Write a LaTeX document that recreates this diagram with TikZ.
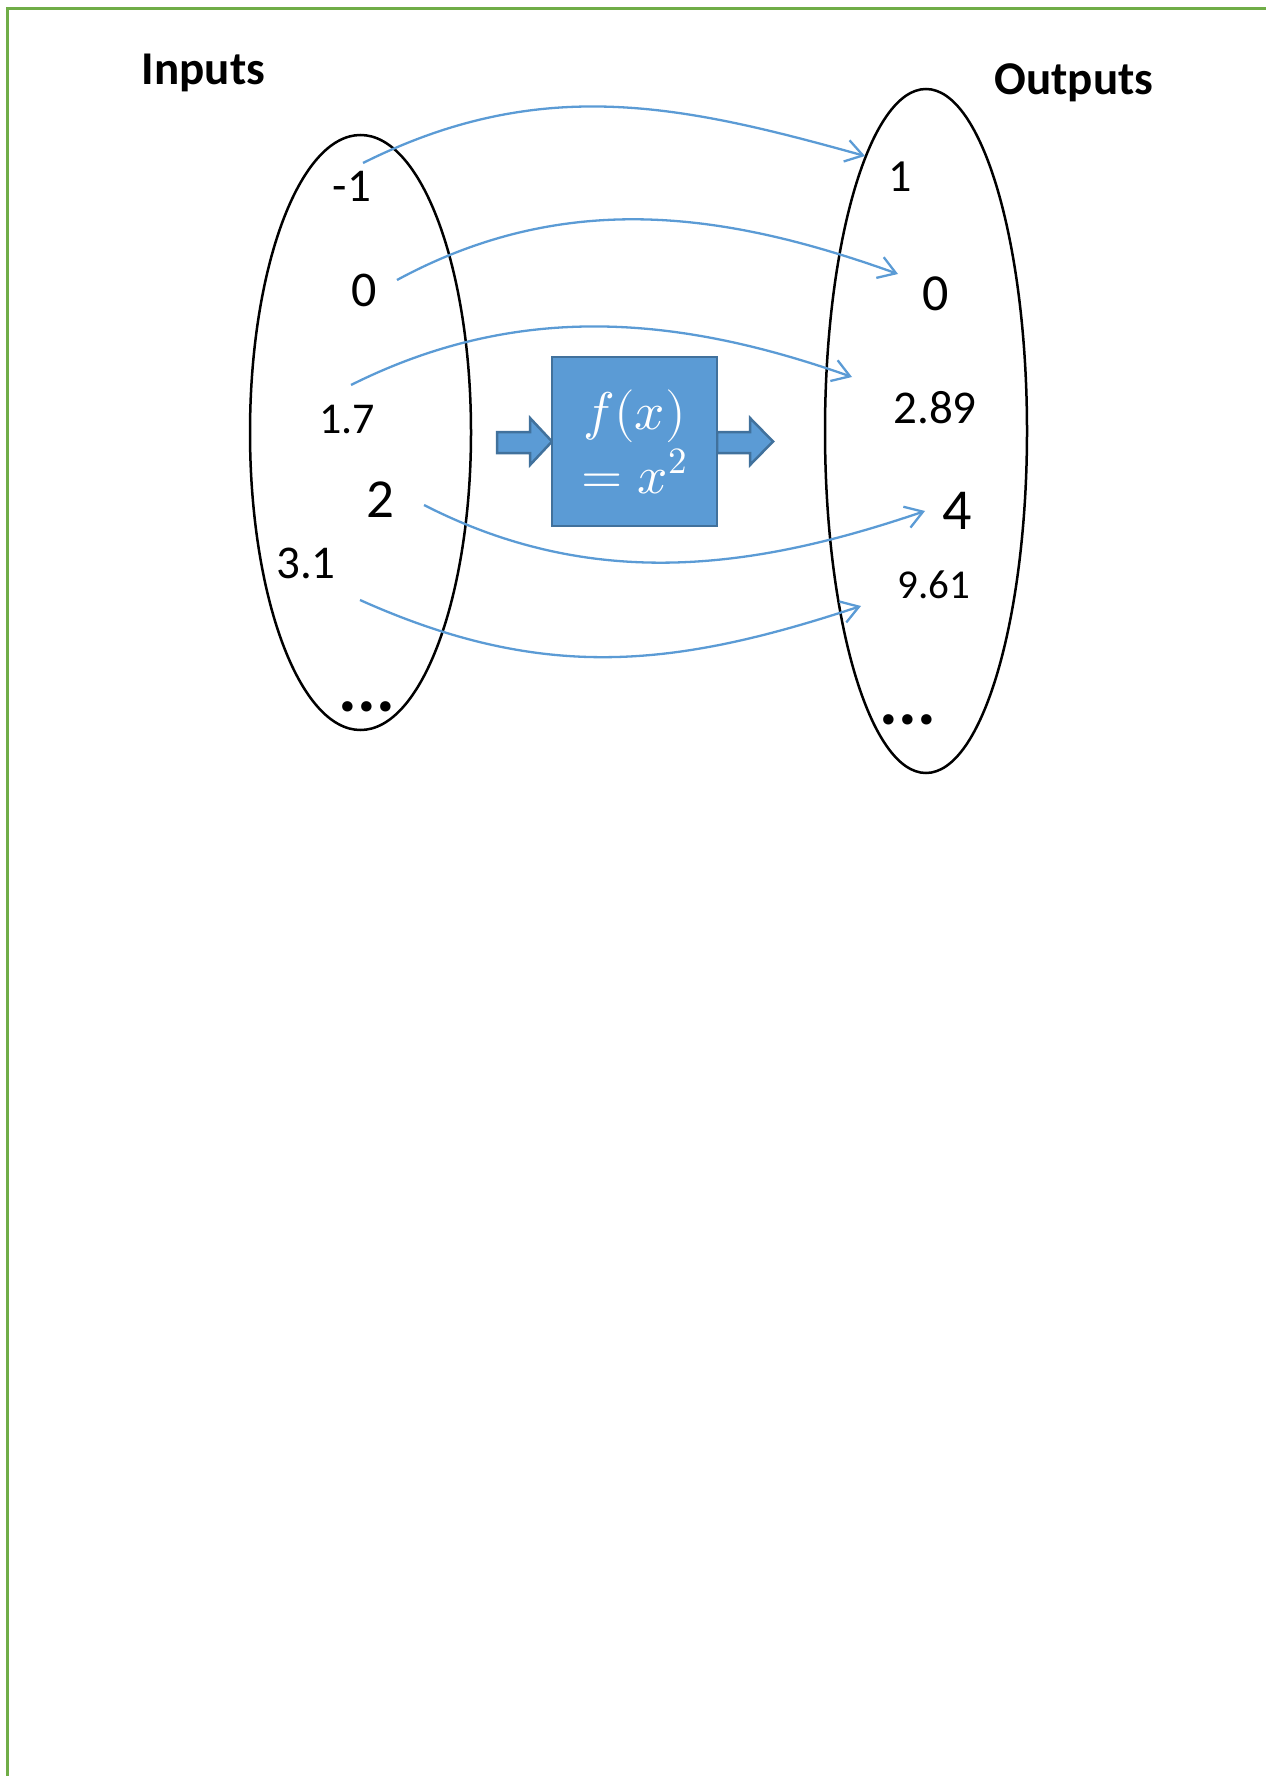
\documentclass[tikz,border=0pt]{standalone}
\usepackage{fontspec}
\setmainfont{Carlito}
\usepackage{unicode-math}
\setmathfont{Latin Modern Math}
\usetikzlibrary{arrows.meta,shapes.geometric}
\definecolor{accblue}{HTML}{5B9BD5}
\definecolor{accborder}{HTML}{41719C}
\definecolor{framegreen}{HTML}{70AD47}
\tikzset{
  lbl/.style={anchor=base, inner sep=0pt, font=\fontsize{#1}{#1}\selectfont},
  head/.style={anchor=base, inner sep=0pt, font=\fontsize{47}{47}\selectfont\bfseries},
  dotsl/.style={anchor=base, inner sep=0pt, font=\fontsize{70}{70}\selectfont\bfseries},
  setoval/.style={ellipse, draw=black, line width=2.5pt, inner sep=0pt},
  mapline/.style={draw=accblue, line width=2.3pt, -{Straight Barb[length=17pt,width=22pt,line width=2.3pt]}},
  fbox/.style={rectangle, fill=accblue, draw=accborder, line width=2.5pt, text=white,
    align=center, minimum width=165pt, minimum height=169pt, inner sep=0pt,
    font=\fontsize{53}{64}\selectfont},
  blockarrow/.style={fill=accblue, draw=accborder, line width=2.5pt, line join=miter},
}
\begin{document}
\begin{tikzpicture}[x=1pt,y=-1pt]
\useasboundingbox (0,0) rectangle (1266,1776);
% frame
\draw[framegreen, line width=3pt] (7,1776) -- (7,9) -- (1266,9);

% headings
\node[head] (inputs) at (203.5,85) {Inputs};
\node[head] (outputs) at (1074,95) {Outputs};

% sets
\node[setoval, minimum width=221pt, minimum height=595pt] (inset) at (360.5,432.5) {};
\node[setoval, minimum width=202pt, minimum height=684pt] (outset) at (926,431) {};

% input labels
\node[lbl=47] (im1) at (352,202) {-1};
\node[lbl=50] (i0) at (364,307) {0};
\node[lbl=44] (i17) at (347,433) {1.7};
\node[lbl=55] (i2) at (380,517) {2};
\node[lbl=47] (i31) at (306,578) {3.1};
\node[dotsl] (idots) at (367,711) {...};

% output labels
\node[lbl=46] (o1) at (900,192) {1};
\node[lbl=52] (o0) at (936,310) {0};
\node[lbl=47] (o289) at (935,423) {2.89};
\node[lbl=58] (o4) at (957,529) {4};
\node[lbl=41] (o961) at (934,598) {9.61};
\node[dotsl] (odots) at (908,724) {...};

% block arrows and function box
\path[blockarrow] (497,432) -- (530,432) -- (530,418) -- (552,441.5) -- (530,465) -- (530,453) -- (497,453) -- cycle;
\path[blockarrow] (717,432) -- (750,432) -- (750,418) -- (773,441.5) -- (750,465) -- (750,453) -- (717,453) -- cycle;
\node[fbox] (func) at (634.5,441.5) {$f(x)$\\$=x^2$};

% mapping connectors
\coordinate (s1) at (363,163); \coordinate (e1) at (865,156);
\coordinate (s2) at (397,280); \coordinate (e2) at (898,274);
\coordinate (s3) at (351,385); \coordinate (e3) at (852,377);
\coordinate (s4) at (424,505); \coordinate (e4) at (925,511);
\coordinate (s5) at (360,600); \coordinate (e5) at (861,606);
\draw[mapline] (s1) .. controls +(180,-90) and +(-180,-50) .. (e1);
\draw[mapline] (s2) .. controls +(170,-92) and +(-170,-61) .. (e2);
\draw[mapline] (s3) .. controls +(170,-85) and +(-170,-60) .. (e3);
\draw[mapline] (s4) .. controls +(170,87) and +(-170,58) .. (e4);
\draw[mapline] (s5) .. controls +(185,83) and +(-185,61) .. (e5);
\end{tikzpicture}
\end{document}
